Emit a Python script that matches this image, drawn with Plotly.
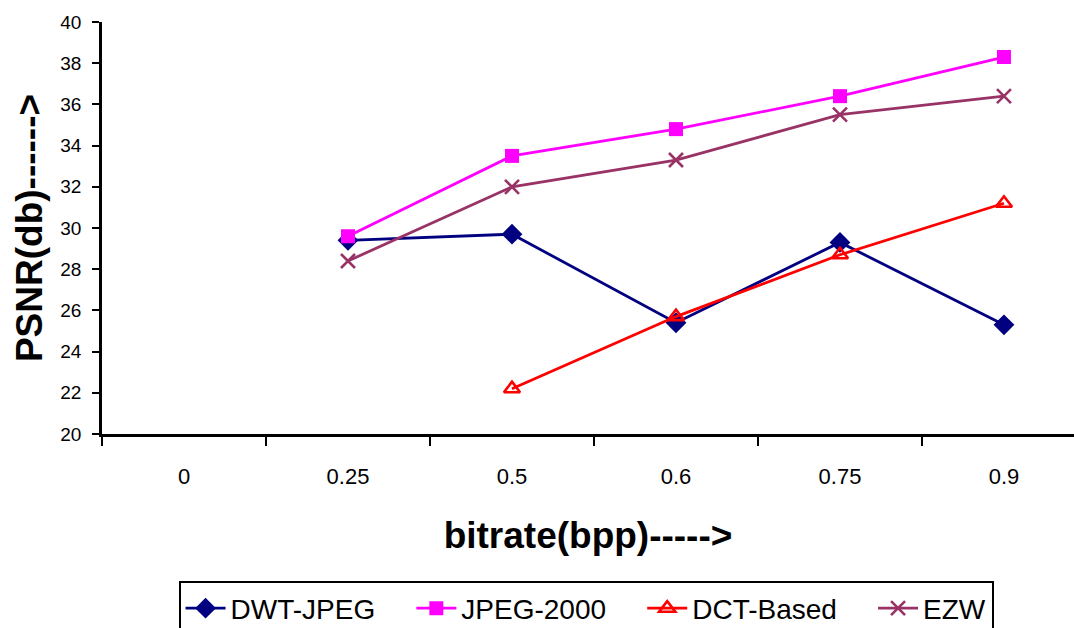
import plotly.graph_objects as go

categories = ["0", "0.25", "0.5", "0.6", "0.75", "0.9"]
dwt_jpeg = [None, 29.4, 29.7, 25.4, 29.3, 25.3]
jpeg_2000 = [None, 29.6, 33.5, 34.8, 36.4, 38.3]
dct_based = [None, None, 22.2, 25.7, 28.7, 31.2]
ezw = [None, 28.4, 32.0, 33.3, 35.5, 36.4]

series = [
    ("DWT-JPEG", dwt_jpeg, "#000080", "diamond", 16, 0),
    ("JPEG-2000", jpeg_2000, "#FF00FF", "square", 14, 0),
    ("DCT-Based", dct_based, "#FF0000", "triangle-up-open", 14, 2.6),
    ("EZW", ezw, "#993366", "x-thin-open", 14, 2.6),
]

PAD = "\u00a0" * 4  # spacing between legend entries

fig = go.Figure()
for i, (name, vals, color, sym, size, lw) in enumerate(series):
    label = name + (PAD if i < len(series) - 1 else "")
    fig.add_trace(go.Scatter(
        x=categories, y=vals, name=label, mode="lines+markers",
        line=dict(color=color, width=2.8),
        marker=dict(symbol=sym, size=size, color=color,
                    line=dict(color=color, width=lw)),
        connectgaps=False,
    ))

fig.update_layout(
    width=1074, height=628,
    margin=dict(l=102, r=0, t=22, b=194, autoexpand=False),
    paper_bgcolor="white", plot_bgcolor="white",
    font=dict(family="Liberation Sans, Arial, sans-serif", color="black"),
    showlegend=True,
    legend=dict(
        orientation="h", x=0.498, xanchor="center", y=-0.358, yanchor="top",
        bordercolor="black", borderwidth=2, font=dict(size=28),
        itemwidth=40,
    ),
)
fig.update_xaxes(
    type="category", categoryorder="array", categoryarray=categories,
    range=[-0.5, 5.427], tickson="boundaries",
    showline=True, linecolor="black", linewidth=2.5,
    ticks="outside", ticklen=9, tickwidth=2, tickcolor="black",
    showgrid=False, zeroline=False,
    tickfont=dict(size=22), ticklabelstandoff=21,
    title=dict(text="<b>bitrate(bpp)-----&gt;</b>", font=dict(size=37), standoff=34),
)
fig.update_yaxes(
    range=[20, 40], dtick=2, tick0=20,
    showline=True, linecolor="black", linewidth=2.5,
    ticks="outside", ticklen=7, tickwidth=2, tickcolor="black",
    showgrid=False, zeroline=False,
    tickfont=dict(size=19), ticklabelstandoff=7,
    title=dict(text="<b>PSNR(db)------&gt;</b>", font=dict(size=37), standoff=7),
)

fig.write_html("out.html")
